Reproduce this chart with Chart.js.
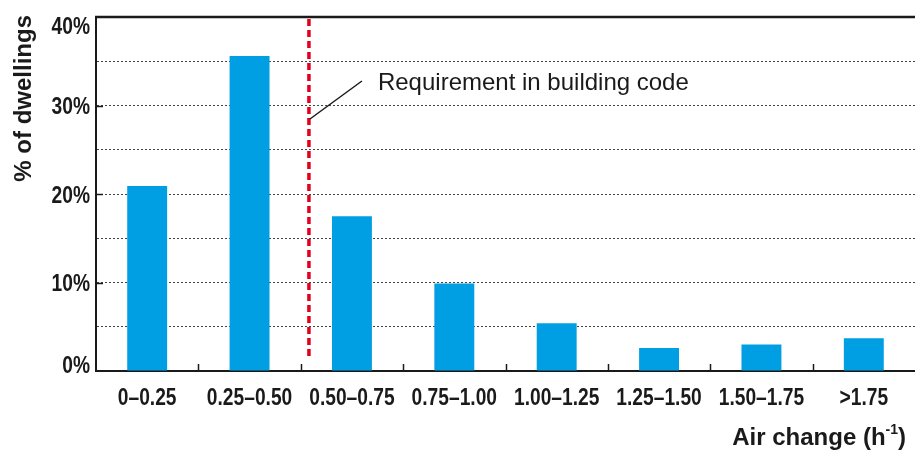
<!DOCTYPE html>
<html>
<head>
<meta charset="utf-8">
<script src="https://cdn.jsdelivr.net/npm/chart.js@4/dist/chart.umd.min.js"></script>
<style>
  html, body { margin: 0; padding: 0; background: #fff; }
  #wrap { width: 915px; height: 450px; position: relative; }
</style>
</head>
<body>
<div id="wrap"><canvas id="chart"></canvas></div>
<script>
// Air change rate distribution in dwellings - bar chart with building code marker

const categories = ['0\u20130.25', '0.25\u20130.50', '0.50\u20130.75', '0.75\u20131.00',
                    '1.00\u20131.25', '1.25\u20131.50', '1.50\u20131.75', '>1.75'];
const dwellingsPct = [20.9, 35.6, 17.5, 9.9, 5.4, 2.6, 3.0, 3.7];
const yTicks = [0, 10, 20, 30, 40];
const requirementAt = 1.58;   // category units, just right of the 0.50 boundary
const requirementLabel = 'Requirement in building code';

const sans = '"Liberation Sans", Arial, sans-serif';
const ink = '#1a1a1a';

// condensed bold text: no narrow face installed, so squeeze horizontally
function narrowText(ctx, text, x, y, size, align) {
  ctx.save();
  ctx.font = 'bold ' + size + 'px ' + sans;
  ctx.textAlign = align;
  ctx.textBaseline = 'alphabetic';
  ctx.translate(x, y + size * 0.716 / 2);
  ctx.scale(0.8, 1);
  ctx.fillText(text, 0, 0);
  ctx.restore();
}

const extras = {
  id: 'extras',
  afterDraw(chart) {
    const { ctx, chartArea: a, scales: { x, y } } = chart;
    ctx.save();
    ctx.fillStyle = ink;

    // heavy top border
    ctx.strokeStyle = ink;
    ctx.lineWidth = 2.5;
    ctx.beginPath();
    ctx.moveTo(a.left - 1, a.top);
    ctx.lineTo(chart.width, a.top);
    ctx.stroke();

    // y tick labels and short inward ticks
    ctx.lineWidth = 1.5;
    yTicks.forEach(v => {
      const py = y.getPixelForValue(v);
      const cy = Math.min(Math.max(py, a.top + 8), a.bottom - 7);
      narrowText(ctx, v + '%', a.left - 6, cy, 24, 'right');
      if (v > 0 && v < 40) {
        const ly = Math.round(py) + 0.5;
        ctx.beginPath();
        ctx.moveTo(a.left, ly);
        ctx.lineTo(a.left + 7, ly);
        ctx.stroke();
      }
    });

    // x tick labels and upward ticks between categories
    categories.forEach((c, i) => {
      narrowText(ctx, c, x.getPixelForValue(i), a.bottom + 25, 24, 'center');
      if (i > 0) {
        const px = Math.round((x.getPixelForValue(i - 1) + x.getPixelForValue(i)) / 2) + 0.5;
        ctx.beginPath();
        ctx.moveTo(px, a.bottom);
        ctx.lineTo(px, a.bottom - 7);
        ctx.stroke();
      }
    });

    // building code requirement
    const rx = x.getPixelForValue(requirementAt);
    ctx.strokeStyle = '#e3001b';
    ctx.lineWidth = 3.5;
    ctx.setLineDash([7, 4]);
    ctx.beginPath();
    ctx.moveTo(rx, a.top + 2);
    ctx.lineTo(rx, a.bottom - 11);
    ctx.stroke();
    ctx.setLineDash([]);

    ctx.strokeStyle = ink;
    ctx.lineWidth = 1.5;
    ctx.beginPath();
    ctx.moveTo(rx + 1, 119);
    ctx.lineTo(rx + 53, 81);
    ctx.stroke();

    ctx.font = '24px ' + sans;
    ctx.textAlign = 'left';
    ctx.textBaseline = 'alphabetic';
    ctx.fillText(requirementLabel, rx + 69, 90);

    // x axis title with superscript
    ctx.font = 'bold 24px ' + sans;
    ctx.textAlign = 'right';
    const xr = 906;
    ctx.fillText(')', xr, 445);
    const wClose = ctx.measureText(')').width;
    ctx.font = 'bold 14px ' + sans;
    ctx.fillText('-1', xr - wClose, 434);
    const wSup = ctx.measureText('-1').width;
    ctx.font = 'bold 24px ' + sans;
    ctx.fillText('Air change (h', xr - wClose - wSup, 445);

    // y axis title
    ctx.translate(31, 15);
    ctx.rotate(-Math.PI / 2);
    ctx.textAlign = 'right';
    ctx.fillText('% of dwellings', 0, 0);

    ctx.restore();
  }
};

new Chart(document.getElementById('chart'), {
  type: 'bar',
  data: {
    labels: categories,
    datasets: [{
      data: dwellingsPct,
      backgroundColor: '#009fe3',
      borderWidth: 0,
      categoryPercentage: 1,
      barPercentage: 0.39
    }]
  },
  options: {
    responsive: true,
    maintainAspectRatio: false,
    animation: false,
    layout: { padding: { top: 17, right: -4, bottom: 0, left: 0 } },
    plugins: { legend: { display: false }, tooltip: { enabled: false } },
    scales: {
      x: {
        afterFit(scale) { scale.height = 79; },
        grid: { display: false, drawTicks: false },
        border: { display: true, color: ink, width: 2 },
        ticks: { display: false }
      },
      y: {
        min: 0, max: 40,
        afterFit(scale) { scale.width = 96; },
        grid: {
          drawTicks: false,
          color: ctx => (ctx.tick.value === 0 || ctx.tick.value === 40) ? 'rgba(0,0,0,0)' : '#444',
          lineWidth: 1
        },
        border: { display: true, color: ink, width: 2, dash: [2, 2] },
        ticks: { display: false, stepSize: 5 }
      }
    }
  },
  plugins: [extras]
});
</script>
</body>
</html>
